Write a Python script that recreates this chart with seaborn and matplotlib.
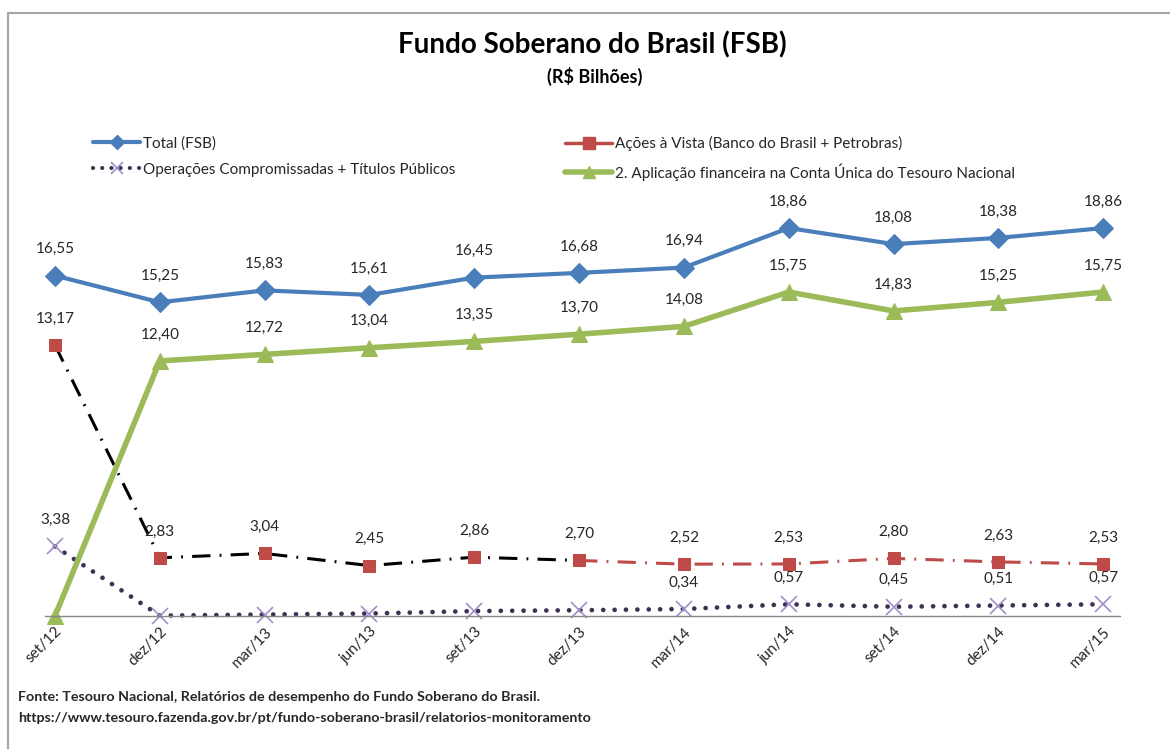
import numpy as np
import pandas as pd
import seaborn as sns
import matplotlib.pyplot as plt
from matplotlib.lines import Line2D

categories = ["set/12", "dez/12", "mar/13", "jun/13", "set/13", "dez/13",
              "mar/14", "jun/14", "set/14", "dez/14", "mar/15"]
total = [16.55, 15.25, 15.83, 15.61, 16.45, 16.68, 16.94, 18.86, 18.08, 18.38, 18.86]
acoes = [13.17, 2.83, 3.04, 2.45, 2.86, 2.70, 2.52, 2.53, 2.80, 2.63, 2.53]
operacoes = [3.38, 0.02, 0.07, 0.12, 0.24, 0.28, 0.34, 0.57, 0.45, 0.51, 0.57]
aplicacao = [0.00, 12.40, 12.72, 13.04, 13.35, 13.70, 14.08, 15.75, 14.83, 15.25, 15.75]

# which points get a value label
labels_operacoes = [True, False, False, False, False, False, True, True, True, True, True]
labels_aplicacao = [False] + [True] * 10

BLUE = "#4A7EBB"
RED = "#BE4B48"
GREEN = "#9BBB59"
PURPLE = "#3F3151"
LILAC = "#A08FCA"
TEXT = "#262626"


def fmt(v):
    return f"{v:.2f}".replace(".", ",")


if __name__ == "__main__":
    sns.set_theme(style="white")
    plt.rcParams["font.family"] = ["Lato", "DejaVu Sans"]

    df = pd.DataFrame({
        "pos": np.arange(len(categories)),
        "total": total,
        "acoes": acoes,
        "operacoes": operacoes,
        "aplicacao": aplicacao,
    })

    fig = plt.figure(figsize=(11.7, 7.49), dpi=100)
    ax = fig.add_axes([45 / 1170, 133 / 749, 1075 / 1170, 411.4 / 749])

    common = dict(ax=ax, x="pos", legend=False, clip_on=False)

    # Total (FSB)
    sns.lineplot(data=df, y="total", color=BLUE, lw=3, marker="D", ms=10,
                 markeredgecolor=BLUE, **common)

    # Ações à Vista: black dash-dot up to dez/13, red afterwards
    dashdot = (0, (6, 3, 0.6, 3))
    sns.lineplot(data=df.iloc[:6], y="acoes", color="black", lw=2.2,
                 linestyle=dashdot, **common)
    sns.lineplot(data=df.iloc[5:], y="acoes", color=RED, lw=2.2,
                 linestyle=dashdot, **common)
    sns.lineplot(data=df, y="acoes", color=RED, lw=0, marker="s", ms=9,
                 markeredgecolor=RED, **common)

    # Operações compromissadas: dotted line with x markers
    sns.lineplot(data=df, y="operacoes", color=PURPLE, lw=3.4,
                 linestyle=(0, (0.01, 2.4)), dash_capstyle="round", **common)
    sns.lineplot(data=df, y="operacoes", color=LILAC, lw=0, marker="x", ms=12,
                 markeredgecolor=LILAC, markeredgewidth=1.2, **common)

    # Aplicação financeira
    sns.lineplot(data=df, y="aplicacao", color=GREEN, lw=4, marker="^", ms=11,
                 markeredgecolor=GREEN, **common)

    # Data labels
    label_kw = dict(textcoords="offset points", xytext=(0, 19), ha="center",
                    va="center", fontsize=11, color=TEXT)
    for i in range(len(categories)):
        ax.annotate(fmt(total[i]), (i, total[i]), **label_kw)
        ax.annotate(fmt(acoes[i]), (i, acoes[i]), **label_kw)
        if labels_aplicacao[i]:
            ax.annotate(fmt(aplicacao[i]), (i, aplicacao[i]), **label_kw)
        if labels_operacoes[i]:
            ax.annotate(fmt(operacoes[i]), (i, operacoes[i]), **label_kw)

    ax.set_xlim(-0.095, 10.16)
    ax.set_ylim(0, 20)
    ax.set_xticks(range(len(categories)))
    ax.set_xticklabels(categories, rotation=45, ha="right", va="top",
                       rotation_mode="anchor", fontsize=11, color=TEXT)
    ax.tick_params(axis="x", length=0, pad=6)
    ax.set_yticks([])
    ax.set_xlabel("")
    ax.set_ylabel("")
    for side in ["top", "left", "right"]:
        ax.spines[side].set_visible(False)
    ax.spines["bottom"].set_color("#868686")
    ax.spines["bottom"].set_linewidth(1)

    # Legends
    h_total = Line2D([], [], color=BLUE, lw=3, marker="D", ms=7)
    h_ops = Line2D([], [], color=PURPLE, lw=3, linestyle=(0, (0.01, 2.2)),
                   dash_capstyle="round", marker="x", ms=9, mec=LILAC, mew=1.2)
    h_acoes = Line2D([], [], color=RED, lw=2.5, marker="s", ms=8)
    h_apl = Line2D([], [], color=GREEN, lw=4, marker="^", ms=8)
    leg_kw = dict(loc="upper left", bbox_transform=fig.transFigure, frameon=False,
                  fontsize=11, handlelength=3.1, handletextpad=0.2,
                  labelspacing=0.8, borderpad=0, borderaxespad=0)
    leg1 = ax.legend([h_total, h_ops],
                     ["Total (FSB)", "Operações Compromissadas + Títulos Públicos"],
                     bbox_to_anchor=(93 / 1170, 1 - 136 / 749), **leg_kw)
    ax.add_artist(leg1)
    ax.legend([h_acoes, h_apl],
              ["Ações à Vista (Banco do Brasil + Petrobras)",
               "2. Aplicação financeira na Conta Única do Tesouro Nacional"],
              bbox_to_anchor=(565 / 1170, 1 - 136 / 749), **leg_kw)

    # Titles
    fig.text(592 / 1170, 1 - 45 / 749, "Fundo Soberano do Brasil (FSB)", ha="center",
             va="center", fontsize=20, fontweight="bold", color="black")
    fig.text(595 / 1170, 1 - 76 / 749, "(R$ Bilhões)", ha="center", va="center",
             fontsize=13, fontweight="bold", color="black")

    # Source
    fig.text(18 / 1170, 1 - 697 / 749,
             "Fonte: Tesouro Nacional, Relatórios de desempenho do Fundo Soberano do Brasil.",
             ha="left", va="center", fontsize=10.3, fontweight="bold", color=TEXT)
    fig.text(18 / 1170, 1 - 718 / 749,
             "https://www.tesouro.fazenda.gov.br/pt/fundo-soberano-brasil/relatorios-monitoramento",
             ha="left", va="center", fontsize=10.3, fontweight="bold", color=TEXT)

    # Chart-area border (top and left edges visible)
    top = 1 - 12.5 / 749
    left = 7.5 / 1170
    fig.add_artist(Line2D([left, 1], [top, top], color="#A6A6A6", lw=1.5))
    fig.add_artist(Line2D([left, left], [0, top], color="#A6A6A6", lw=1.5))

    plt.savefig("out.png", dpi=100)
